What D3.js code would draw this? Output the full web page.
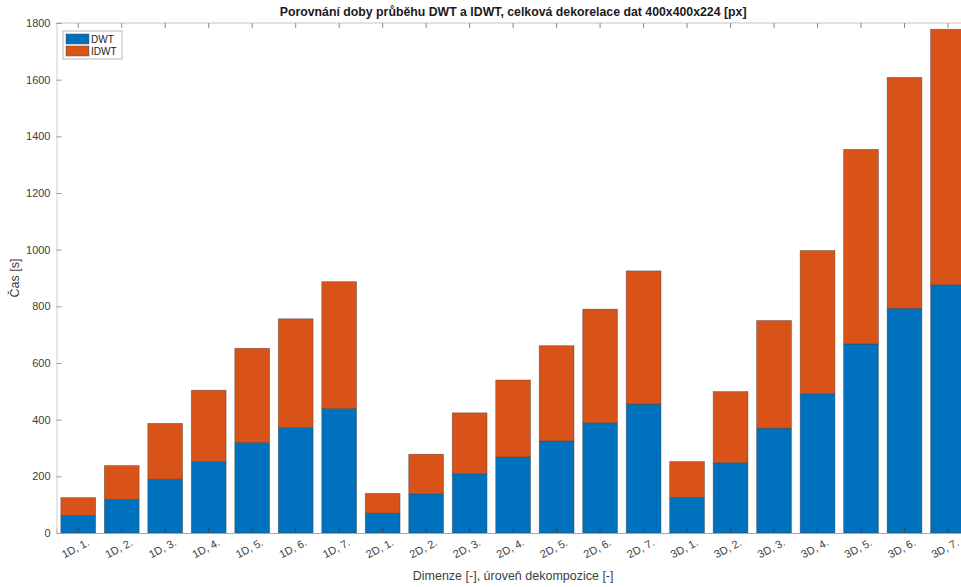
<!DOCTYPE html>
<html>
<head>
<meta charset="utf-8">
<script src="https://cdn.jsdelivr.net/npm/d3@7"></script>
<style>
    body { margin: 0; background: #fff; overflow: hidden; }
    svg { display: block; font-family: "Liberation Sans", Arial, sans-serif; }
</style>
</head>
<body>
<div id="chart-div"></div>
<script>
// global variables
const width = 961;
const height = 587;
const plotLeft = 56.5;
const plotRight = 969.75;   // the right side of the axes is cut off in the original
const plotTop = 23;
const plotBottom = 533;

// data
const categories = ["1D, 1.", "1D, 2.", "1D, 3.", "1D, 4.", "1D, 5.", "1D, 6.", "1D, 7.",
    "2D, 1.", "2D, 2.", "2D, 3.", "2D, 4.", "2D, 5.", "2D, 6.", "2D, 7.",
    "3D, 1.", "3D, 2.", "3D, 3.", "3D, 4.", "3D, 5.", "3D, 6.", "3D, 7."];
const dwt = [62, 119, 190, 252, 319, 372, 439,
    70, 138, 209, 268, 325, 389, 455,
    126, 248, 370, 491, 667, 793, 876];
const idwt = [63, 119, 197, 252, 333, 384, 448,
    70, 140, 215, 272, 336, 401, 470,
    126, 251, 380, 506, 687, 815, 902];
const yTicks = [0, 200, 400, 600, 800, 1000, 1200, 1400, 1600, 1800];
const seriesNames = ["DWT", "IDWT"];
const colors = ["#0072BD", "#D95319"];

var svg = d3.select("#chart-div")
    .append("svg")
    .attr("width", width)
    .attr("height", height);

// build stacked table
var table = categories.map((c, i) => {
    return { cat: c, DWT: dwt[i], IDWT: idwt[i] };
});
var stacked = d3.stack().keys(seriesNames)(table);

// create scales
var xScale = d3.scaleBand()
    .domain(categories)
    .range([plotLeft, plotRight])
    .paddingInner(0.2)
    .paddingOuter(0.1);

var yScale = d3.scaleLinear()
    .domain([0, 1800])
    .range([plotBottom, plotTop]);

////////////////
// add bars   //
////////////////
var bars = svg.append("g").attr("id", "bars");

bars.selectAll("g")
    .data(stacked)
    .enter()
    .append("g")
    .attr("fill", (d, i) => colors[i])
    .selectAll("rect")
    .data(d => d)
    .enter()
    .append("rect")
    .attr("x", d => xScale(d.data.cat))
    .attr("y", d => yScale(d[1]))
    .attr("width", xScale.bandwidth())
    .attr("height", d => yScale(d[0]) - yScale(d[1]))
    .attr("stroke", "#3a3a3a")
    .attr("stroke-opacity", 0.55)
    .attr("stroke-width", 0.7);

/////////////////////////
// create and add axes //
/////////////////////////
var xAxis = d3.axisBottom(xScale)
    .tickSize(-5)
    .tickPadding(9);

var yAxis = d3.axisLeft(yScale)
    .tickValues(yTicks)
    .tickFormat(d3.format("d"))
    .tickSize(-5)
    .tickPadding(6);

// top box line with ticks
svg.append("line")
    .attr("x1", plotLeft).attr("x2", plotRight)
    .attr("y1", plotTop).attr("y2", plotTop)
    .attr("stroke", "#c4c4c4");

svg.append("g")
    .attr("transform", "translate(0," + plotTop + ")")
    .call(d3.axisTop(xScale).tickSize(-5).tickFormat(""))
    .call(g => g.select(".domain").remove())
    .selectAll("line").attr("stroke", "#8a8a8a");

var gx = svg.append("g").attr("id", "x-axis")
    .attr("transform", "translate(0," + plotBottom + ")")
    .call(xAxis);
gx.select(".domain").attr("stroke", "#a8a8a8").attr("stroke-width", 1.2);
gx.selectAll(".tick line").attr("stroke", "#333").attr("stroke-opacity", 0.6);
gx.selectAll("text")
    .attr("font-size", 11)
    .attr("fill", "#404040")
    .attr("transform", "translate(4,-3)rotate(-28)")
    .style("text-anchor", "end");

var gy = svg.append("g").attr("id", "y-axis")
    .attr("transform", "translate(" + plotLeft + ",0)")
    .call(yAxis);
gy.select(".domain").attr("stroke", "#d8d8d8").attr("stroke-width", 1.2);
gy.selectAll(".tick line").attr("stroke", "#9a9a9a");
gy.selectAll("text").attr("font-size", 11).attr("fill", "#404040");

// title and axis labels
svg.append("text")
    .attr("x", (plotLeft + plotRight) / 2)
    .attr("y", 16)
    .attr("text-anchor", "middle")
    .attr("font-size", 12.3)
    .attr("font-weight", "bold")
    .attr("fill", "#1a1a1a")
    .text("Porovnání doby průběhu DWT a IDWT, celková dekorelace dat 400x400x224 [px]");

svg.append("text")
    .attr("transform", "rotate(-90)")
    .attr("x", -(plotTop + plotBottom) / 2)
    .attr("y", 19)
    .attr("text-anchor", "middle")
    .attr("font-size", 12.5)
    .attr("fill", "#404040")
    .text("Čas [s]");

svg.append("text")
    .attr("x", (plotLeft + plotRight) / 2)
    .attr("y", 580)
    .attr("text-anchor", "middle")
    .attr("font-size", 12.5)
    .attr("fill", "#404040")
    .text("Dimenze [-], úroveň dekompozice [-]");

////////////
// legend //
////////////
var legend = svg.append("g").attr("id", "legend")
    .attr("transform", "translate(63,31)");

legend.append("rect")
    .attr("width", 59)
    .attr("height", 28)
    .attr("fill", "#fff")
    .attr("stroke", "#b8b8b8");

seriesNames.forEach((name, i) => {
    legend.append("rect")
        .attr("x", 3)
        .attr("y", 3 + i * 12)
        .attr("width", 23)
        .attr("height", 10)
        .attr("fill", colors[i])
        .attr("stroke", "#555")
        .attr("stroke-width", 0.5);
    legend.append("text")
        .attr("x", 28)
        .attr("y", 12 + i * 12)
        .attr("font-size", 10)
        .attr("fill", "#222")
        .text(name);
});
</script>
</body>
</html>
